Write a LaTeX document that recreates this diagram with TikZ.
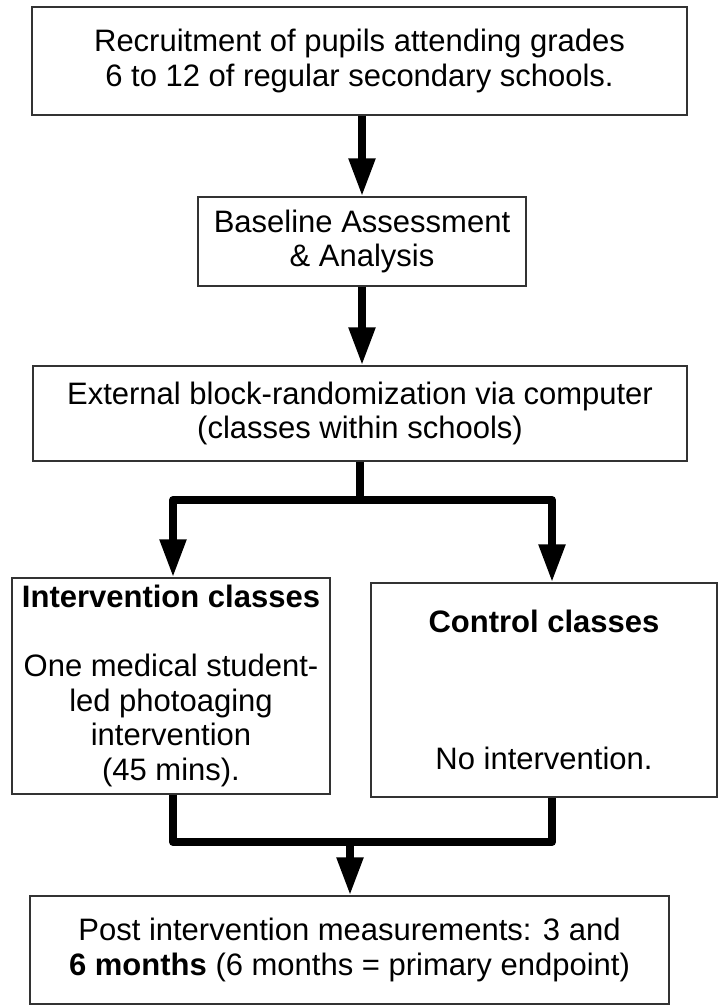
\documentclass[tikz,border=0pt]{standalone}
\usepackage{fontspec}
\setmainfont{Liberation Sans}
\usetikzlibrary{arrows.meta}
\begin{document}
\begin{tikzpicture}[x=1pt,y=-1pt,
  box/.style={draw=black!80, line width=1.2pt, align=center, inner sep=0pt, fill=white,
    font=\fontsize{31}{34.5}\selectfont},
  conn/.style={line width=8pt, line join=round, draw=black},
  tipend/.style={-{Triangle[length=38pt,width=25pt]}},
  tipboth/.style={{Triangle[length=38pt,width=25pt]}-{Triangle[length=38pt,width=25pt]}}]
\useasboundingbox (0,0) rectangle (719,1006);
\node[box, minimum width=655pt, minimum height=108pt] (b1) at (359.5,61)
  {Recruitment of pupils attending grades\\6 to 12 of regular secondary schools.};
\node[box, minimum width=328pt, minimum height=89pt] (b2) at (362,241.5)
  {Baseline Assessment\\\& Analysis};
\node[box, minimum width=654pt, minimum height=95pt] (b3) at (360,413.5)
  {External block-randomization via computer\\(classes within schools)};
\node[box, minimum width=318pt, minimum height=216pt] (b4) at (171,686)
  {\textbf{Intervention classes}\\[34.5pt]One medical student-\\led photoaging\\intervention\\(45 mins).};
\node[box, minimum width=346pt, minimum height=214pt] (b5) at (544,690)
  {\textbf{Control classes}\\[103pt]No intervention.};
\node[box, minimum width=639pt, minimum height=108pt] (b6) at (349.5,950)
  {Post intervention measurements: 3 and\\\textbf{6 months} (6 months = primary endpoint)};
% connectors
\draw[conn, tipend] (b2.north |- b1.south) -- (b2.north);
\draw[conn, tipend] (b2.south) -- (b2.south |- b3.north);
\coordinate (L) at (173,500);
\coordinate (R) at (552,500);
\coordinate (T) at (360,500);
\draw[conn] (T |- b3.south) -- (T);
\draw[conn, tipboth] (L |- b4.north) -- (L) -- (R) -- (R |- b5.north);
\coordinate (ML) at (173,842);
\coordinate (MR) at (552,842);
\coordinate (MC) at (350,842);
\draw[conn] (ML |- b4.south) -- (ML) -- (MR) -- (MR |- b5.south);
\draw[conn, tipend] (MC) -- (MC |- b6.north);
\end{tikzpicture}
\end{document}
